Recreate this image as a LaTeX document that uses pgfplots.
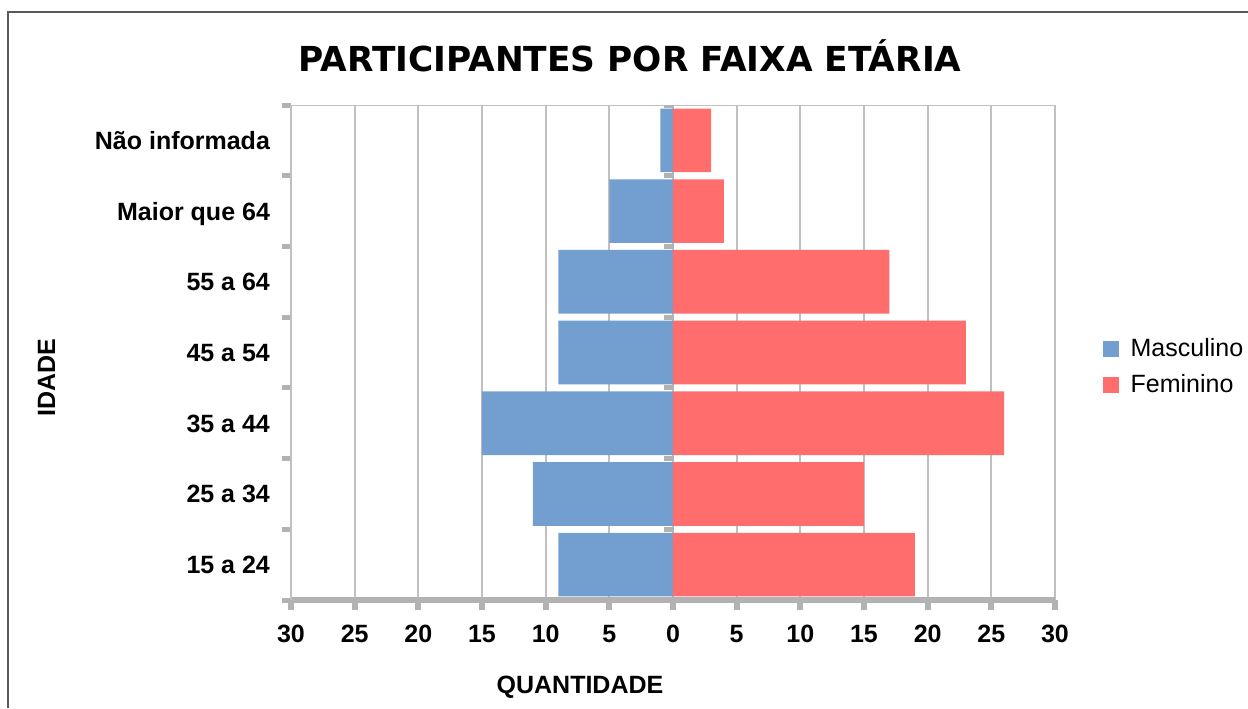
\documentclass[border=0pt]{standalone}
\usepackage{fontspec}
\setmainfont{Liberation Sans}
\newfontfamily\titlefont{DejaVu Sans}
\usepackage{pgfplots}
\pgfplotsset{compat=1.18}
\definecolor{masc}{RGB}{114,159,207}
\definecolor{fem}{RGB}{255,109,109}
\definecolor{gridgray}{RGB}{192,192,192}
\definecolor{axisgray}{RGB}{178,178,178}

\begin{document}
\begin{tikzpicture}
\useasboundingbox (0pt,0pt) rectangle (624pt,-354pt);
\draw[line width=0.8pt, black!65] (4pt,-354pt) -- (4pt,-6pt) -- (624pt,-6pt);
\node[font=\titlefont\bfseries\fontsize{17.2}{19}\selectfont, anchor=base]
  at (315pt,-35.5pt) {PARTICIPANTES POR FAIXA ETÁRIA};
\node[font=\bfseries\fontsize{12.5}{14}\selectfont, anchor=base]
  at (290pt,-346.5pt) {QUANTIDADE};
\node[font=\bfseries\fontsize{12.5}{14}\selectfont, anchor=base, rotate=90]
  at (27.5pt,-189pt) {IDADE};
\begin{axis}[
  at={(145.5pt,-300pt)}, anchor=south west,
  width=382pt, height=247.5pt, scale only axis,
  xbar, bar width=0.9, bar shift=0pt,
  xmin=-30, xmax=30, ymin=-0.5, ymax=6.5,
  xtick={-30,-25,...,30},
  xticklabels={30,25,20,15,10,5,0,5,10,15,20,25,30},
  ytick={0,...,6},
  yticklabels={15 a 24,25 a 34,35 a 44,45 a 54,55 a 64,Maior que 64,Não informada},
  minor ytick={-0.5,0.5,...,6.5},
  xmajorgrids, grid style={gridgray, line width=1pt},
  axis x line*=bottom, axis y line*=left,
  x axis line style={axisgray, line width=3pt, -},
  y axis line style={gridgray, line width=1pt, -},
  tick align=outside,
  major tick length=5pt, minor tick length=4.5pt,
  major x tick style={axisgray, line width=3pt},
  major y tick style={draw=none},
  minor y tick style={axisgray, line width=2.5pt},
  /pgf/number format/assume math mode=true,
  xticklabel style={font=\bfseries\fontsize{12.5}{14}\selectfont, anchor=base, yshift=-16pt},
  yticklabel style={font=\bfseries\fontsize{12.5}{14}\selectfont, anchor=base east, yshift=-4.5pt, xshift=-2pt},
  legend cell align=left,
  legend style={draw=none, fill=none, at={(1.054,0.47)}, anchor=west,
    font=\fontsize{12.5}{14}\selectfont, row sep=3.5pt,
    /tikz/every odd column/.append style={column sep=4pt}},
]
\draw[gridgray, line width=1pt] (rel axis cs:0,1) -- (rel axis cs:1,1);
\addplot[fill=masc, draw=none,
  legend image code/.code={\fill[masc] (0pt,-4pt) rectangle (8pt,4pt);}]
  coordinates {(-9,0) (-11,1) (-15,2) (-9,3) (-9,4) (-5,5) (-1,6)};
\addlegendentry{Masculino}
\addplot[fill=fem, draw=none,
  legend image code/.code={\fill[fem] (0pt,-4pt) rectangle (8pt,4pt);}]
  coordinates {(19,0) (15,1) (26,2) (23,3) (17,4) (4,5) (3,6)};
\addlegendentry{Feminino}
\pgfplotsinvokeforeach{-0.5,0.5,...,6.5}{
  \draw[axisgray, line width=2.5pt] (axis cs:-0.7,#1) -- (axis cs:0.1,#1);
}
\end{axis}
\end{tikzpicture}
\end{document}
